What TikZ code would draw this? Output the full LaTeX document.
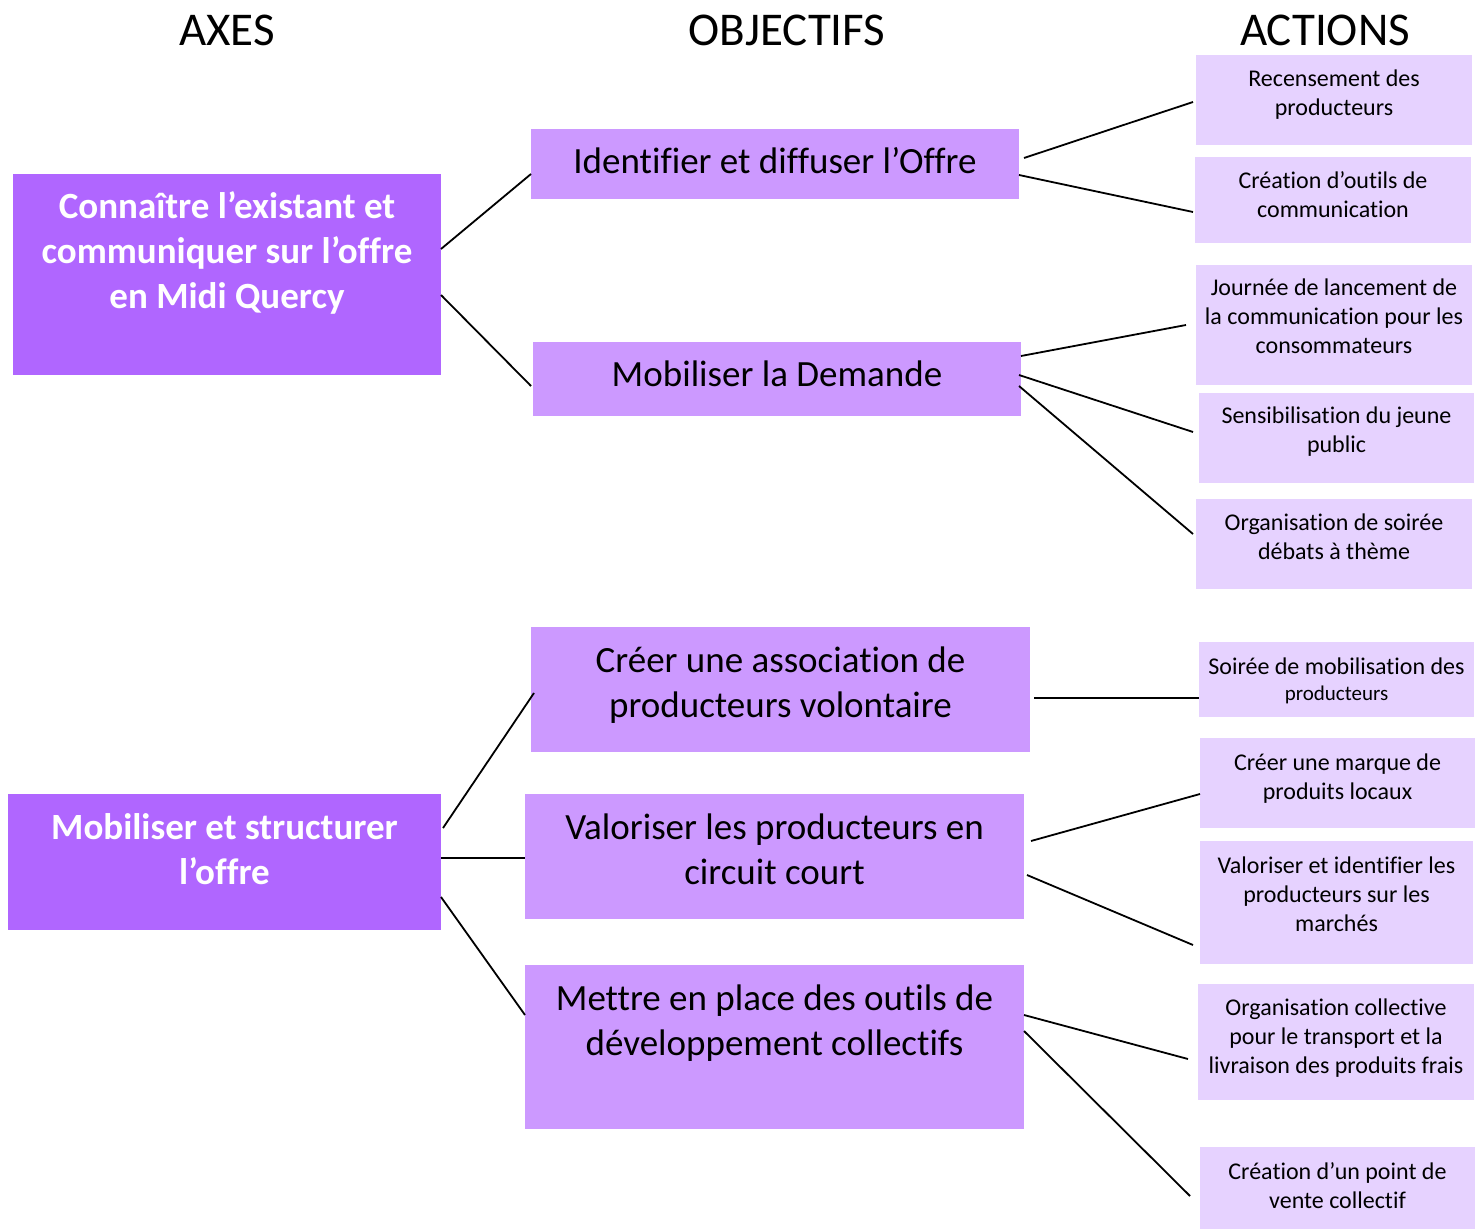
\documentclass[tikz,border=0pt]{standalone}
\usepackage{fontspec}
\setmainfont{Carlito}[Ligatures={NoCommon}]
\usetikzlibrary{calc}
\definecolor{axc}{HTML}{B066FF}
\definecolor{obc}{HTML}{CC99FF}
\definecolor{acc}{HTML}{E6D2FF}
\newcommand\boxtext[4]{\parbox[t][#2pt][t]{#1pt}{\centering\rule{0pt}{#3pt}#4}}
\tikzset{
  anybox/.style={inner sep=0pt, outer sep=0pt, anchor=north west},
  axbox/.style={anybox, fill=axc, text=white, font=\fontsize{37}{45}\selectfont\bfseries},
  obbox/.style={anybox, fill=obc, text=black, font=\fontsize{37}{45}\selectfont},
  acbox/.style={anybox, fill=acc, text=black, font=\fontsize{24}{29}\selectfont},
  header/.style={anchor=base, font=\fontsize{47}{56}\selectfont},
  conn/.style={draw=black, line width=1.8pt}
}
\begin{document}
\begin{tikzpicture}[x=1pt,y=-1pt]
\useasboundingbox (0,0) rectangle (1478,1230);
\fill[white] (0,0) rectangle (1478,1230);

% headers
\node[header] (hax) at (227,46) {AXES};
\node[header] (hob) at (787,46) {OBJECTIFS};
\node[header] (hac) at (1325,46) {ACTIONS};

% axes
\node[axbox] (ax1) at (13,174) {\boxtext{428}{201}{45}{Connaître l’existant et\\communiquer sur l’offre\\en Midi Quercy}};
\node[axbox] (ax2) at (8,794) {\boxtext{433}{136}{45}{Mobiliser et structurer\\l’offre}};

% objectifs
\node[obbox] (ob1) at (531,129) {\boxtext{488}{70}{45}{Identifier et diffuser l’Offre}};
\node[obbox] (ob2) at (533,342) {\boxtext{488}{74}{45}{Mobiliser la Demande}};
\node[obbox] (ob3) at (531,627) {\boxtext{499}{125}{45}{Créer une association de\\producteurs volontaire}};
\node[obbox] (ob4) at (525,794) {\boxtext{499}{125}{45}{Valoriser les producteurs en\\circuit court}};
\node[obbox] (ob5) at (525,965) {\boxtext{499}{164}{45}{Mettre en place des outils de\\développement collectifs}};

% actions
\node[acbox] (ac1) at (1196,55) {\boxtext{276}{90}{32}{Recensement des\\producteurs}};
\node[acbox] (ac2) at (1195,157) {\boxtext{276}{86}{32}{Création d’outils de\\communication}};
\node[acbox] (ac3) at (1196,265) {\boxtext{276}{120}{31}{Journée de lancement de\\la communication pour les\\consommateurs}};
\node[acbox] (ac4) at (1199,393) {\boxtext{275}{90}{31}{Sensibilisation du jeune\\public}};
\node[acbox] (ac5) at (1196,499) {\boxtext{276}{90}{31}{Organisation de soirée\\débats à thème}};
\node[acbox] (ac6) at (1199,642) {\boxtext{275}{75}{32}{Soirée de mobilisation des\\[-3pt]{\fontsize{21}{26}\selectfont producteurs}}};
\node[acbox] (ac7) at (1200,738) {\boxtext{275}{90}{32}{Créer une marque de\\produits locaux}};
\node[acbox] (ac8) at (1200,841) {\boxtext{273}{123}{32}{Valoriser et identifier les\\producteurs sur les\\marchés}};
\node[acbox] (ac9) at (1198,984) {\boxtext{276}{116}{31}{Organisation collective\\pour le transport et la\\livraison des produits frais}};
\node[acbox] (ac10) at (1200,1147) {\boxtext{275}{82}{32}{Création d’un point de\\vente collectif}};

% connectors
\draw[conn] (ax1.east|-0,249) -- (ob1.west|-0,174);
\draw[conn] (ax1.east|-0,295) -- ($(ob2.west|-0,386)+(-2,0)$);
\draw[conn] ($(ob1.east|-0,158)+(5,0)$) -- ($(ac1.west|-0,102)+(-3,0)$);
\draw[conn] (ob1.east|-0,175) -- ($(ac2.west|-0,212)+(-2,0)$);
\draw[conn] (ob2.east|-0,356) -- ($(ac3.west|-0,325)+(-10,0)$);
\draw[conn] ($(ob2.east|-0,375)+(-2,0)$) -- ($(ac4.west|-0,432)+(-6,0)$);
\draw[conn] ($(ob2.east|-0,386)+(-2,0)$) -- ($(ac5.west|-0,534)+(-3,0)$);
\draw[conn] ($(ax2.east|-0,828)+(2,0)$) -- ($(ob3.west|-0,693)+(3,0)$);
\draw[conn] (ax2.east|-0,858) -- (ob4.west|-0,858);
\draw[conn] (ax2.east|-0,897) -- (ob5.west|-0,1015);
\draw[conn] ($(ob3.east|-0,698)+(4,0)$) -- (ac6.west|-0,698);
\draw[conn] ($(ob4.east|-0,841)+(7,0)$) -- (ac7.west|-0,794);
\draw[conn] ($(ob4.east|-0,875)+(3,0)$) -- ($(ac8.west|-0,945)+(-7,0)$);
\draw[conn] (ob5.east|-0,1015) -- ($(ac9.west|-0,1059)+(-10,0)$);
\draw[conn] (ob5.east|-0,1031) -- ($(ac10.west|-0,1196)+(-10,0)$);
\end{tikzpicture}
\end{document}
